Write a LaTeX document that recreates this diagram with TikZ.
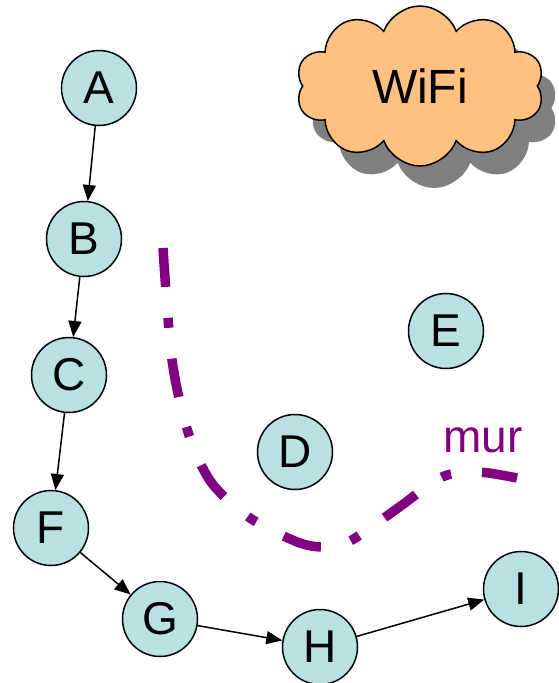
\documentclass[tikz,border=0pt]{standalone}
\usepackage{fontspec}
\setmainfont{Liberation Sans}
\usetikzlibrary{arrows.meta,shapes.symbols,shadows}
\definecolor{stationfill}{RGB}{185,224,227}
\definecolor{cloudfill}{RGB}{255,192,128}
\definecolor{murcolor}{RGB}{128,0,128}
\newcommand{\bigfont}{\fontsize{46}{50}\selectfont}

\begin{document}
\begin{tikzpicture}[x=1pt,y=-1pt,->,>={Triangle[length=16pt,width=13pt]},line width=1.5pt,
      station/.style={draw, circle, fill=stationfill, line width=1.5pt, minimum size=75pt, inner sep=0pt, font=\bigfont}]
     \useasboundingbox (0,0) rectangle (559,683);
     \node[station] (A) at (99,88) {A};
     \node[station] (B) at (84,239) {B};
     \node[station] (C) at (69,375) {C};
     \node[station] (D) at (295,452) {D};
     \node[station] (E) at (446,331) {E};
     \node[station] (F) at (51,528) {F};
     \node[station] (G) at (160,619) {G};
     \node[station] (H) at (320,647) {H};
     \node[station] (I) at (521,589) {I};
     \node[cloud, cloud puffs=10, cloud puff arc=140, aspect=1.6, draw, fill=cloudfill, line width=1.5pt,
           minimum width=248pt, minimum height=160pt, font=\fontsize{48}{52}\selectfont,
           general shadow={fill=black!50, shadow xshift=14pt, shadow yshift=-22pt}] (wifi) at (420,86) {WiFi};
     % le mur
     \draw[-, murcolor, line width=9.5pt, dash pattern=on 39pt off 31pt on 10pt off 31pt]
        plot[smooth] coordinates {(163,248) (172,360) (188,432) (211,482) (250,518) (300,543)
                                  (330,547) (352,540) (398,508) (442,477) (478,472) (517,478)};
     \node[text=murcolor, font=\bigfont] (mur) at (483,440) {mur};
     \draw (A) edge (B);
     \draw (B) edge (C);
     \draw (C) edge (F);
     \draw (F) edge (G);
     \draw (G) edge (H);
     \draw (H) edge (I);
    \end{tikzpicture}
\end{document}
